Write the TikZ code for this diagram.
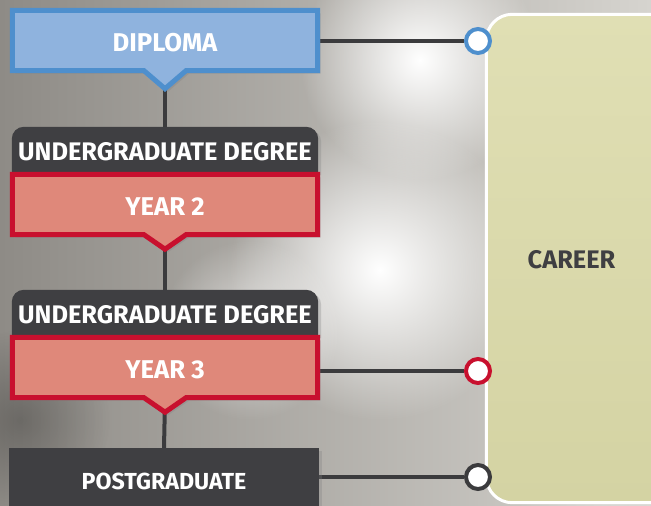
\documentclass[tikz,border=0pt]{standalone}
\usepackage{fontspec}
\setmainfont{Fira Sans}
\usetikzlibrary{calc,shadows,fadings}
\definecolor{bluefill}{HTML}{8FB3DE}
\definecolor{blueline}{HTML}{4E8FCD}
\definecolor{redfill}{HTML}{DF887A}
\definecolor{redline}{HTML}{C8102E}
\definecolor{darkbox}{HTML}{3F3F42}
\definecolor{linecol}{HTML}{3B3B3D}
\definecolor{careerA}{HTML}{E0DFB4}
\definecolor{careerB}{HTML}{D4D3A3}
\definecolor{photoL}{HTML}{8E8B86}
\definecolor{photoR}{HTML}{D6D4CF}
\tikzfading[name=glowfade, inner color=transparent!0, outer color=transparent!100]
\pgfdeclarelayer{photo}\pgfdeclarelayer{lines}\pgfdeclarelayer{shapes}
\pgfsetlayers{photo,lines,shapes,main}
\begin{document}
\begin{tikzpicture}[x=1pt,y=-1pt,
  lbl/.style={inner sep=0pt,text=white,font=\bfseries\fontsize{25.7}{28}\selectfont},
  slot/.style={lbl,minimum width=310pt,minimum height=65pt,text height=22pt,text depth=0pt},
  hdr/.style={lbl,minimum width=306pt,minimum height=45pt,text height=21.5pt,text depth=0pt,font=\bfseries\fontsize{25.4}{28}\selectfont},
  postslot/.style={lbl,minimum width=310pt,minimum height=66pt,font=\bfseries\fontsize{23.2}{26}\selectfont},
  careerslot/.style={inner sep=0pt,minimum width=173pt,minimum height=491pt,text height=20.5pt,text depth=0pt,text=darkbox,font=\bfseries\fontsize{25.4}{28}\selectfont},
  dot/.style={circle,draw,line width=4pt,fill=white,minimum size=24pt,inner sep=0pt},
  conn/.style={draw=linecol,line width=4pt},
  shade/.style={drop shadow={opacity=0.3,shadow xshift=3pt,shadow yshift=-3pt}},
  bluebox/.style={fill=bluefill,draw=blueline,line width=5pt,shade},
  redbox/.style={fill=redfill,draw=redline,line width=5pt,shade},
  darkshape/.style={fill=darkbox,shade},
  glow/.style={path fading=glowfade},
]
\useasboundingbox (0,0) rectangle (651,506);
% nodes
\node[slot] (dip) at (165,40.5) {DIPLOMA};
\node[hdr] (ug1) at (165,149.5) {UNDERGRADUATE DEGREE};
\node[slot] (y2) at (165,204.5) {YEAR 2};
\node[hdr] (ug2) at (165,312.5) {UNDERGRADUATE DEGREE};
\node[slot] (y3) at (165,367.5) {YEAR 3};
\node[postslot] (pg) at (164,481) {POSTGRADUATE};
\node[careerslot] (car) at (571.5,258.5) {CAREER};
\node[dot,draw=blueline] (c1) at (478,41) {};
\node[dot,draw=redline] (c2) at (478,371) {};
\node[dot,draw=linecol] (c3) at (478,477) {};
% background photo
\begin{pgfonlayer}{photo}
\shade[left color=photoL,right color=photoR] (0,0) rectangle (651,506);
\fill[white,glow] (420,60) circle (120);
\fill[white,glow] (380,270) circle (150);
\fill[white,opacity=0.6,glow] (250,330) circle (90);
\fill[black,opacity=0.25,glow] (20,420) circle (90);
\fill[white,opacity=0.5,glow] (600,420) circle (120);
\end{pgfonlayer}
% connectors
\begin{pgfonlayer}{lines}
\draw[conn] (dip.south) -- (ug1.north);
\draw[conn] (y2.south) -- (ug2.north);
\draw[conn] (y3.south) -- (pg.north);
\draw[conn] (c1 -| dip.east) -- (c1);
\draw[conn] (c2 -| y3.east) -- (c2);
\draw[conn] (c3 -| pg.east) -- (c3);
\end{pgfonlayer}
% shapes
\begin{pgfonlayer}{shapes}
\draw[white,line width=3pt,top color=careerA,bottom color=careerB,rounded corners=26pt]
  ($(car.north west)+(1.5,1.5)$) rectangle ($(car.south east)+(60,-1.5)$);
\draw[bluebox] ($(dip.north west)+(2.5,2.5)$) -- ($(dip.north east)+(-2.5,2.5)$)
  -- ($(dip.south east)+(-2.5,-2.5)$) -- ($(dip.south)+(21,-2.5)$) -- ($(dip.south)+(0,15.5)$)
  -- ($(dip.south)+(-21,-2.5)$) -- ($(dip.south west)+(2.5,-2.5)$) -- cycle;
\foreach \h/\b in {ug1/y2,ug2/y3}{
  \fill[darkshape] (\h.south west) [rounded corners=12pt] -- (\h.north west) -- (\h.north east)
    [sharp corners] -- (\h.south east) -- cycle;
  \draw[redbox] ($(\b.north west)+(2.5,2.5)$) -- ($(\b.north east)+(-2.5,2.5)$)
    -- ($(\b.south east)+(-2.5,-2.5)$) -- ($(\b.south)+(21,-2.5)$) -- ($(\b.south)+(0,12)$)
    -- ($(\b.south)+(-21,-2.5)$) -- ($(\b.south west)+(2.5,-2.5)$) -- cycle;
}
\fill[darkshape] (pg.north west) rectangle (pg.south east);
\end{pgfonlayer}
\end{tikzpicture}
\end{document}
